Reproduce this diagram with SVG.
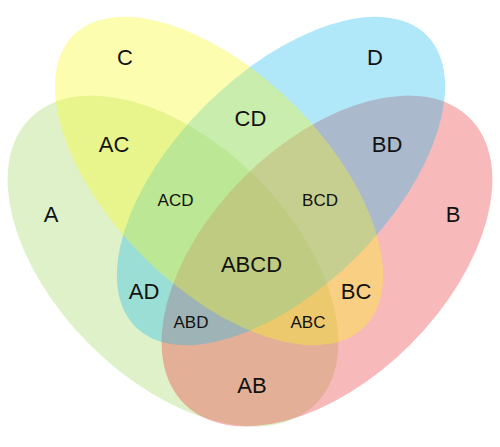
<svg xmlns="http://www.w3.org/2000/svg" width="500" height="447" viewBox="0 0 500 447">
<style>
.set{fill-opacity:0.35;stroke:none}
.lbl{font-family:"Liberation Sans",Arial,sans-serif;font-size:22px;fill:#111;text-anchor:middle}
.sm{font-size:17px}
</style>
<rect width="500" height="447" fill="#fff"/>
<g id="sets">
<g id="setA"><ellipse class="set" cx="173" cy="261" rx="202" ry="118" transform="rotate(45 173 261)" fill="#a4d862"/></g>
<g id="setB"><ellipse class="set" cx="327" cy="261" rx="202" ry="118" transform="rotate(-45 327 261)" fill="#eb373d"/></g>
<g id="setD"><ellipse class="set" cx="281" cy="181" rx="206" ry="107" transform="rotate(-45 281 181)" fill="#1ebaee"/></g>
<g id="setC"><ellipse class="set" cx="219" cy="181" rx="206" ry="107" transform="rotate(45 219 181)" fill="#f9f91d"/></g>
</g>
<g id="labels">
<text class="lbl" x="125" y="65">C</text>
<text class="lbl" x="375" y="65">D</text>
<text class="lbl" x="114" y="152">AC</text>
<text class="lbl" x="250.5" y="126">CD</text>
<text class="lbl" x="387" y="152">BD</text>
<text class="lbl" x="51" y="222">A</text>
<text class="lbl" x="453" y="222">B</text>
<text class="lbl sm" x="175.5" y="206">ACD</text>
<text class="lbl sm" x="320" y="206">BCD</text>
<text class="lbl" x="251.5" y="272">ABCD</text>
<text class="lbl" x="144" y="299">AD</text>
<text class="lbl" x="356" y="299">BC</text>
<text class="lbl sm" x="191" y="328">ABD</text>
<text class="lbl sm" x="308" y="328">ABC</text>
<text class="lbl" x="252" y="393">AB</text>
</g>
</svg>
